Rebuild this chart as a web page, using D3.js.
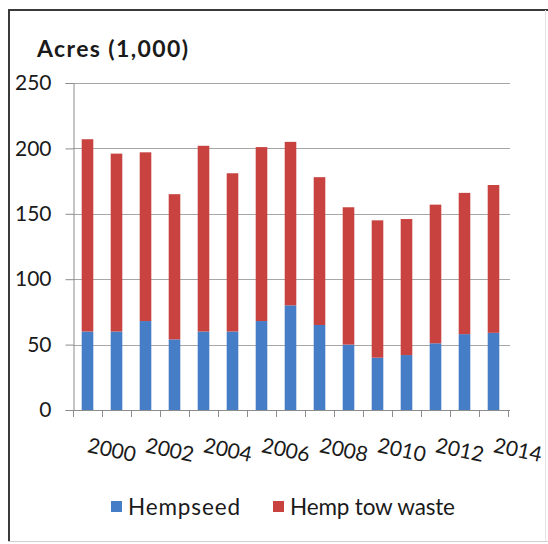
<!DOCTYPE html>
<html>
<head>
<meta charset="utf-8">
<script src="https://cdn.jsdelivr.net/npm/d3@7"></script>
<style>
  body { margin: 0; background: #fff; }
  svg { display: block; }
  text { font-family: Lato, "Open Sans", sans-serif; fill: #1a1a1a; }
</style>
</head>
<body>
<svg id="chart" width="548" height="544"></svg>
<script>
const years = ["2000","2001","2002","2003","2004","2005","2006","2007","2008","2009","2010","2011","2012","2013","2014"];
const hempseed = [60, 60, 68, 54, 60, 60, 68, 80, 65, 50, 40, 42, 51, 58, 59];
const hempTowWaste = [147, 136, 129, 111, 142, 121, 133, 125, 113, 105, 105, 104, 106, 108, 113];
const yTicks = [0, 50, 100, 150, 200, 250];
const xTickLabels = ["2000","2002","2004","2006","2008","2010","2012","2014"];
const seriesNames = ["Hempseed", "Hemp tow waste"];
const colors = ["#457dc6", "#c8423f"];

const svg = d3.select("#chart");

// outer frame
svg.append("line").attr("x1", 9).attr("x2", 9).attr("y1", 9).attr("y2", 541).attr("stroke", "#3a3a3a").attr("stroke-width", 2);
svg.append("line").attr("x1", 8).attr("x2", 548).attr("y1", 10).attr("y2", 10).attr("stroke", "#3a3a3a").attr("stroke-width", 2);
svg.append("line").attr("x1", 8).attr("x2", 548).attr("y1", 541.5).attr("y2", 541.5).attr("stroke", "#cfcfcf").attr("stroke-width", 1);
svg.append("line").attr("x1", 545.5).attr("x2", 545.5).attr("y1", 10).attr("y2", 541).attr("stroke", "#e4e4e4").attr("stroke-width", 1);

const x = d3.scaleBand().domain(years).range([73, 508]).paddingInner(0.6).paddingOuter(0.3);
const y = d3.scaleLinear().domain([0, 250]).range([410, 83]);

// gridlines
svg.append("g").selectAll("line").data(yTicks.filter(d => d > 0)).join("line")
  .attr("x1", 73).attr("x2", 510)
  .attr("y1", d => Math.round(y(d)) + 0.5).attr("y2", d => Math.round(y(d)) + 0.5)
  .attr("stroke", "#a6a6a6").attr("stroke-width", 1);

// stacked bars
const table = years.map((yr, i) => ({ year: yr, "Hempseed": hempseed[i], "Hemp tow waste": hempTowWaste[i] }));
const stack = d3.stack().keys(seriesNames)(table);
svg.append("g").selectAll("g").data(stack).join("g")
  .attr("fill", (d, i) => colors[i])
  .selectAll("rect").data(d => d).join("rect")
  .attr("x", d => x(d.data.year))
  .attr("width", x.bandwidth())
  .attr("y", d => y(d[1]))
  .attr("height", d => y(d[0]) - y(d[1]));

// y axis
const yAxis = svg.append("g").attr("transform", "translate(73.5,0)")
  .call(d3.axisLeft(y).tickValues(yTicks).tickSize(8).tickPadding(14).tickFormat(d3.format("d")));
yAxis.select(".domain").attr("stroke", "#8c8c8c");
yAxis.selectAll(".tick line").attr("stroke", "#8c8c8c");
yAxis.selectAll(".tick text").attr("font-size", 21).attr("font-family", "Lato, sans-serif").attr("fill", "#1a1a1a");

// x axis line and ticks at band boundaries
const bounds = years.map(d => x(d) - x.step() * x.paddingInner() / 2).concat([508]);
svg.append("line").attr("x1", 73).attr("x2", 510).attr("y1", 410.5).attr("y2", 410.5).attr("stroke", "#8c8c8c");
svg.append("g").selectAll("line").data(bounds).join("line")
  .attr("x1", d => Math.round(d) + 0.5).attr("x2", d => Math.round(d) + 0.5)
  .attr("y1", 410).attr("y2", 417).attr("stroke", "#8c8c8c");

// x tick labels
svg.append("g").selectAll("text").data(xTickLabels).join("text")
  .attr("transform", d => `translate(${x(d) + x.bandwidth() / 2 - 1},452) rotate(12)`)
  .attr("text-anchor", "start")
  .attr("font-size", 21)
  .text(d => d);

// y title
svg.append("text").attr("x", 37).attr("y", 57).attr("font-size", 23).attr("font-weight", "bold")
  .attr("textLength", 151).attr("lengthAdjust", "spacing").text("Acres (1,000)");

// legend
const legendX = [111, 273];
const legendW = [112, 165];
const lg = svg.append("g").selectAll("g").data(seriesNames).join("g")
  .attr("transform", (d, i) => `translate(${legendX[i]},0)`);
lg.append("rect").attr("x", 0).attr("y", 501).attr("width", 11).attr("height", 11).attr("fill", (d, i) => colors[i]);
lg.append("text").attr("x", 17).attr("y", 515).attr("font-size", 22.5)
  .attr("textLength", (d, i) => legendW[i]).attr("lengthAdjust", "spacing").text(d => d);
</script>
</body>
</html>
